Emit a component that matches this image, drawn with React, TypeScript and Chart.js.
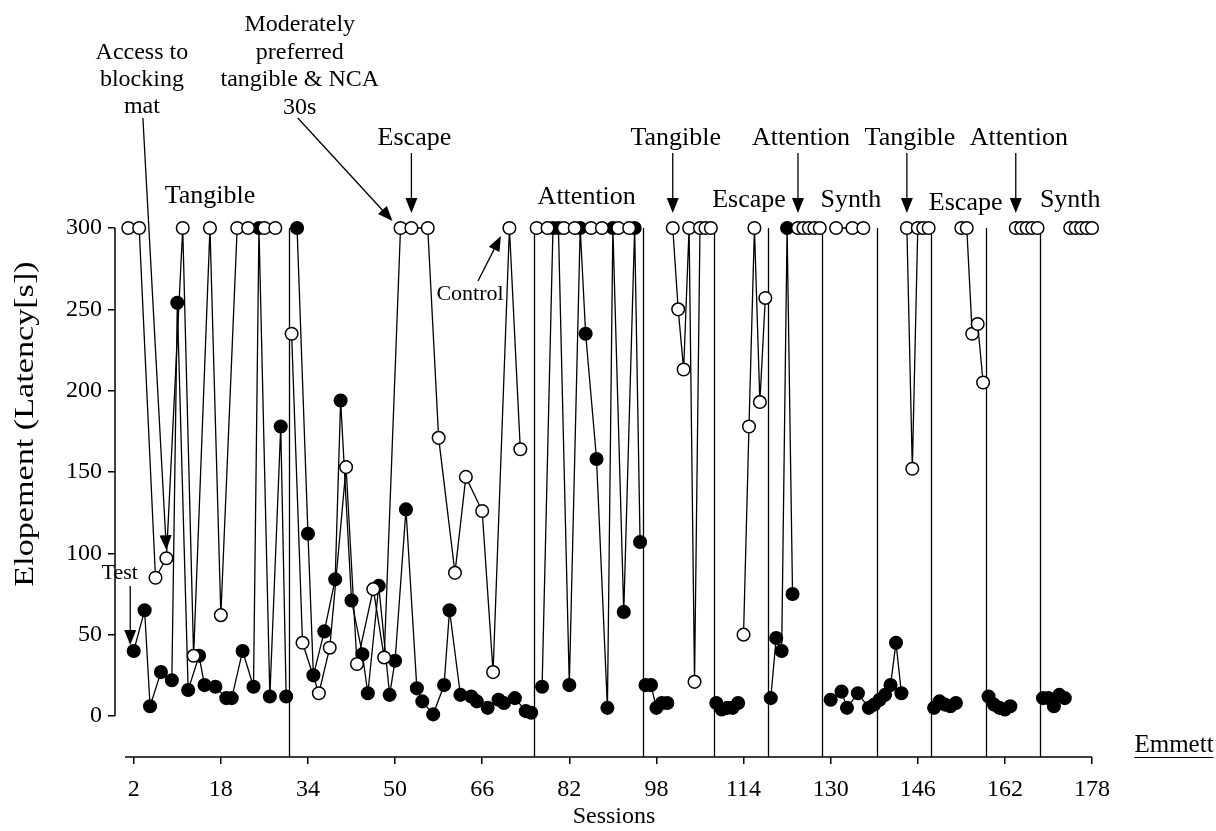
import React, { useEffect, useRef } from "react";
import { Chart, registerables } from "chart.js";

Chart.register(...registerables);

const FONT = '"Liberation Serif", "Times New Roman", Times, serif';

// Open-circle condition: session numbers and elopement latency (s)
const openSessions = [
  1, 3, 6, 8, 11, 13, 16, 18, 21, 23, 26, 28,
  31, 33, 36, 38, 41, 43, 46, 48, 51, 53, 56, 58, 61, 63, 66, 68, 71, 73,
  76, 78, 81, 83, 86, 88, 91, 93,
  101, 102, 103, 104, 105, 106, 107, 108,
  114, 115, 116, 117, 118,
  124, 125, 126, 127, 128,
  131, 134, 136,
  144, 145, 146, 147, 148,
  154, 155, 156, 157, 158,
  164, 165, 166, 167, 168,
  174, 175, 176, 177, 178,
];
const openLatency = [
  300, 300, 85, 97, 300, 37, 300, 62, 300, 300, 300, 300,
  235, 45, 14, 42, 153, 32, 78, 36, 300, 300, 300, 171, 88, 147, 126, 27, 300, 164,
  300, 300, 300, 300, 300, 300, 300, 300,
  300, 250, 213, 300, 21, 300, 300, 300,
  50, 178, 300, 193, 257,
  300, 300, 300, 300, 300,
  300, 300, 300,
  300, 152, 300, 300, 300,
  300, 300, 235, 241, 205,
  300, 300, 300, 300, 300,
  300, 300, 300, 300, 300,
];

// Filled-circle condition: session numbers and elopement latency (s)
const filledSessions = [
  2, 4, 5, 7, 9, 10, 12, 14, 15, 17, 19, 20, 22, 24, 25, 27, 29, 30,
  32, 34, 35, 37, 39, 40, 42, 44, 45, 47, 49, 50, 52, 54, 55, 57, 59, 60, 62, 64, 65, 67, 69, 70, 72, 74, 75,
  77, 79, 80, 82, 84, 85, 87, 89, 90, 92, 94, 95,
  96, 97, 98, 99, 100,
  109, 110, 111, 112, 113,
  119, 120, 121, 122, 123,
  130, 132, 133, 135, 137, 138,
  139, 140, 141, 142, 143,
  149, 150, 151, 152, 153,
  159, 160, 161, 162, 163,
  169, 170, 171, 172, 173,
];
const filledLatency = [
  40, 65, 6, 27, 22, 254, 16, 37, 19, 18, 11, 11, 40, 18, 300, 12, 178, 12,
  300, 112, 25, 52, 84, 194, 71, 38, 14, 80, 13, 34, 127, 17, 9, 1, 19, 65, 13, 12, 9, 5, 10, 8, 11, 3, 2,
  18, 300, 300, 19, 300, 235, 158, 5, 300, 64, 300, 107,
  19, 19, 5, 8, 8,
  8, 4, 5, 5, 8,
  11, 48, 40, 300, 75,
  10, 15, 5, 14, 5, 7,
  10, 13, 19, 45, 14,
  5, 9, 7, 6, 8,
  12, 7, 5, 4, 6,
  11, 11, 6, 13, 11,
];

// Condition-change lines (between sessions)
const phaseChanges = [30.5, 75.5, 95.5, 108.5, 118.5, 128.5, 138.5, 148.5, 158.5, 168.5];

const xTicks = [2, 18, 34, 50, 66, 82, 98, 114, 130, 146, 162, 178];
const yTicks = [0, 50, 100, 150, 200, 250, 300];

type Pt = { x: number; y: number | null };

// Insert a gap wherever a condition-change line falls between two sessions
function withBreaks(sessions: number[], values: number[]): Pt[] {
  const pts: Pt[] = [];
  sessions.forEach((s, i) => {
    if (i > 0) {
      const prev = sessions[i - 1];
      if (phaseChanges.some((p) => p > prev && p < s)) pts.push({ x: (prev + s) / 2, y: null });
    }
    pts.push({ x: s, y: values[i] });
  });
  return pts;
}

function drawArrow(ctx: CanvasRenderingContext2D, x1: number, y1: number, x2: number, y2: number, head = 14, half = 6) {
  const ang = Math.atan2(y2 - y1, x2 - x1);
  const bx = x2 - head * Math.cos(ang);
  const by = y2 - head * Math.sin(ang);
  ctx.beginPath();
  ctx.moveTo(x1, y1);
  ctx.lineTo(bx, by);
  ctx.stroke();
  ctx.beginPath();
  ctx.moveTo(x2, y2);
  ctx.lineTo(bx + half * Math.sin(ang), by - half * Math.cos(ang));
  ctx.lineTo(bx - half * Math.sin(ang), by + half * Math.cos(ang));
  ctx.closePath();
  ctx.fill();
}

const decorations = {
  id: "decorations",
  beforeDatasetsDraw(chart: any) {
    const { ctx, chartArea, scales } = chart;
    const xs = scales.x;
    const ys = scales.y;
    ctx.save();
    ctx.strokeStyle = "#000";
    ctx.lineWidth = 1.3;
    const top = ys.getPixelForValue(300);
    phaseChanges.forEach((p) => {
      const px = Math.round(xs.getPixelForValue(p)) + 0.5;
      ctx.beginPath();
      ctx.moveTo(px, top);
      ctx.lineTo(px, chartArea.bottom);
      ctx.stroke();
    });
    // detached axis lines
    ctx.lineWidth = 1.5;
    ctx.beginPath();
    ctx.moveTo(chartArea.left, ys.getPixelForValue(300));
    ctx.lineTo(chartArea.left, ys.getPixelForValue(0));
    ctx.stroke();
    ctx.beginPath();
    ctx.moveTo(xs.getPixelForValue(0.4), chartArea.bottom);
    ctx.lineTo(xs.getPixelForValue(178), chartArea.bottom);
    ctx.stroke();
    ctx.restore();
  },
  afterDatasetsDraw(chart: any) {
    const { ctx, scales } = chart;
    const xs = scales.x;
    const ys = scales.y;
    const px = (s: number) => xs.getPixelForValue(s);
    const py = (v: number) => ys.getPixelForValue(v);
    ctx.save();
    ctx.fillStyle = "#000";
    ctx.strokeStyle = "#000";
    ctx.lineWidth = 1.3;
    ctx.textAlign = "center";
    ctx.textBaseline = "middle";

    // axis titles
    ctx.font = `24px ${FONT}`;
    ctx.fillText("Sessions", 614, 817);
    ctx.save();
    ctx.translate(26, 424);
    ctx.rotate(-Math.PI / 2);
    ctx.scale(1.22, 1);
    ctx.font = `28px ${FONT}`;
    ctx.fillText("Elopement (Latency[s])", 0, 0);
    ctx.restore();

    // condition labels
    ctx.font = `26px ${FONT}`;
    const phaseLabels: [string, number, number][] = [
      ["Tangible", 16, 196],
      ["Attention", 85.2, 197],
      ["Escape", 115, 200],
      ["Synth", 133.7, 200],
      ["Escape", 154.8, 203],
      ["Synth", 174, 200],
    ];
    phaseLabels.forEach(([t, s, y]) => ctx.fillText(t, px(s), y));

    const arrowLabels: [string, number][] = [
      ["Escape", 53],
      ["Tangible", 101],
      ["Attention", 124],
      ["Tangible", 144],
      ["Attention", 164],
    ];
    const top300 = py(300);
    arrowLabels.forEach(([t, s]) => {
      const x = px(s);
      ctx.fillText(t, x + 3, 138);
      drawArrow(ctx, x, 153, x, top300 - 15, 15, 6);
    });

    // notes
    ctx.font = `24px ${FONT}`;
    ["Access to", "blocking", "mat"].forEach((t, i) => ctx.fillText(t, px(3.5), 53 + i * 27));
    ["Moderately", "preferred", "tangible & NCA", "30s"].forEach((t, i) =>
      ctx.fillText(t, px(32.5), 25 + i * 27.5)
    );
    drawArrow(ctx, px(3.5) + 1, 118, px(8), py(97) - 8, 15, 6);
    drawArrow(ctx, px(32.5) - 2, 118, px(51) - 8, top300 - 7, 15, 6);

    ctx.font = `22px ${FONT}`;
    ctx.fillText("Test", px(2) - 14, 573);
    drawArrow(ctx, px(2) - 3.5, 586, px(2) - 3.5, py(40) - 6, 15, 6);
    ctx.fillText("Control", 470, 294);
    drawArrow(ctx, 478, 281, px(71) - 8.5, top300 + 8, 15, 6);

    // participant name
    ctx.font = `25px ${FONT}`;
    ctx.fillText("Emmett", 1174, 745);
    const w = ctx.measureText("Emmett").width;
    ctx.lineWidth = 1.2;
    ctx.beginPath();
    ctx.moveTo(1174 - w / 2, 757.5);
    ctx.lineTo(1174 + w / 2, 757.5);
    ctx.stroke();
    ctx.restore();
  },
};

export default function App() {
  const canvasRef = useRef<HTMLCanvasElement>(null);

  useEffect(() => {
    const canvas = canvasRef.current;
    if (!canvas) return;
    const pointStyle = {
      showLine: true,
      borderColor: "#000",
      borderWidth: 1.3,
      pointRadius: 6.3,
      pointHoverRadius: 6.3,
      pointBorderColor: "#000",
      pointBorderWidth: 1.5,
      spanGaps: false,
      clip: false as any,
      tension: 0,
    };
    const chart = new Chart(canvas, {
      type: "scatter",
      data: {
        datasets: [
          {
            ...pointStyle,
            label: "Open",
            data: withBreaks(openSessions, openLatency) as any,
            pointBackgroundColor: "#fff",
            backgroundColor: "#fff",
          },
          {
            ...pointStyle,
            label: "Filled",
            data: withBreaks(filledSessions, filledLatency) as any,
            pointBackgroundColor: "#000",
            backgroundColor: "#000",
          },
        ],
      },
      options: {
        responsive: false,
        animation: false,
        devicePixelRatio: 1,
        layout: { padding: { top: 228, right: 124, bottom: 0, left: 0 } },
        plugins: { legend: { display: false }, tooltip: { enabled: false } },
        scales: {
          x: {
            type: "linear",
            min: -1.44,
            max: 178,
            afterBuildTicks: (axis: any) => {
              axis.ticks = xTicks.map((value) => ({ value }));
            },
            afterFit: (axis: any) => {
              axis.height = 74;
            },
            grid: { drawOnChartArea: false, drawTicks: true, tickLength: 7, color: "#000", lineWidth: 1.5 },
            border: { display: false },
            ticks: {
              font: { family: FONT, size: 24 },
              color: "#000",
              padding: 11,
              maxRotation: 0,
              autoSkip: false,
            },
          },
          y: {
            type: "linear",
            min: -25.2,
            max: 300,
            afterBuildTicks: (axis: any) => {
              axis.ticks = yTicks.map((value) => ({ value }));
            },
            afterFit: (axis: any) => {
              axis.width = 115;
            },
            grid: { drawOnChartArea: false, drawTicks: true, tickLength: 7, color: "#000", lineWidth: 1.5 },
            border: { display: false },
            ticks: { font: { family: FONT, size: 24 }, color: "#000", padding: 6 },
          },
        },
      },
      plugins: [decorations],
    });
    return () => chart.destroy();
  }, []);

  return (
    <div style={{ position: "absolute", left: 0, top: 0, width: 1216, height: 831, background: "#fff" }}>
      <canvas ref={canvasRef} width={1216} height={831} style={{ display: "block", width: 1216, height: 831 }} />
    </div>
  );
}
